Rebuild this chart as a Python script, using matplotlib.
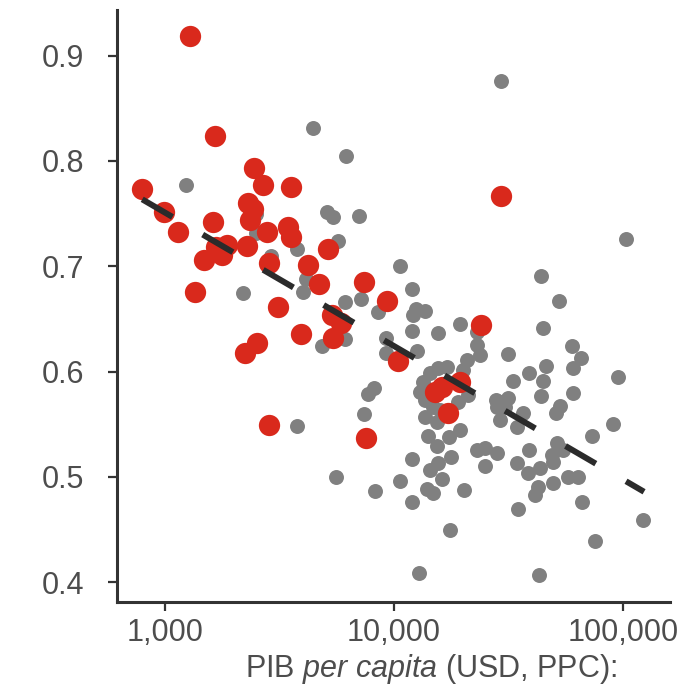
import matplotlib.pyplot as plt
import numpy as np

# GDP per capita (USD, PPP) and index value
red_gdp = [1286, 794, 990, 1140, 1352, 1480, 1653, 1621, 1866, 1774, 1670,
           2447, 2680, 3549, 2303, 2422, 2350, 2281, 2788, 3443, 3549, 2844,
           4210, 4701, 3113, 3926, 2522, 2235, 2844, 5150, 5358, 5871, 5415,
           7390, 9315, 10400, 7545, 23980, 16210, 19420, 17200, 29330, 15100]
red_val = [0.919, 0.773, 0.752, 0.733, 0.676, 0.706, 0.824, 0.742, 0.720, 0.711, 0.718,
           0.793, 0.777, 0.775, 0.760, 0.754, 0.744, 0.719, 0.733, 0.737, 0.728, 0.703,
           0.701, 0.683, 0.661, 0.636, 0.627, 0.618, 0.549, 0.716, 0.654, 0.646, 0.632,
           0.685, 0.667, 0.610, 0.537, 0.644, 0.585, 0.590, 0.561, 0.767, 0.581]

gray_gdp = [1236, 4426, 6173, 29330, 103000, 2495, 5098, 5415, 7032, 2495,
            5690, 2904, 3770, 4128, 4008, 2192, 6113, 7178, 8515, 10620,
            11990, 12480, 13660, 12110, 11990, 15560, 19420, 23030, 23030, 23760,
            20830, 20010, 31480, 4849, 6113, 9230, 9230, 12600, 43880, 52560,
            44760, 59880, 65570, 60480, 46130, 44760, 38870, 33100, 95130, 60480,
            43880, 53090, 50960, 29630, 28160, 31480, 29040, 34460, 36560, 90400,
            73240, 51480, 54720, 38870, 48990, 34460, 38460, 43430, 49460, 57540,
            63590, 49460, 42560, 41300, 66260, 34780, 122200, 75550, 42970, 12850,
            17570, 20210, 11990, 10620, 8260, 5580, 3770, 7698, 8180, 7390,
            11990, 14360, 15560, 17740, 16210, 13940, 14800, 23030, 24960, 28160,
            24960, 14070, 15400, 17380, 19420, 13660, 15400, 14800, 15880, 12990,
            13390, 13660, 14360, 15560, 17030, 19020, 21050, 27870, 30540]
gray_val = [0.777, 0.831, 0.805, 0.876, 0.726, 0.750, 0.752, 0.747, 0.748, 0.732,
            0.724, 0.710, 0.716, 0.688, 0.676, 0.675, 0.666, 0.669, 0.657, 0.700,
            0.678, 0.659, 0.658, 0.654, 0.639, 0.637, 0.645, 0.638, 0.625, 0.616,
            0.611, 0.602, 0.617, 0.624, 0.631, 0.632, 0.618, 0.620, 0.691, 0.667,
            0.641, 0.624, 0.613, 0.603, 0.605, 0.591, 0.599, 0.591, 0.595, 0.580,
            0.577, 0.567, 0.561, 0.571, 0.566, 0.575, 0.554, 0.547, 0.561, 0.550,
            0.539, 0.532, 0.526, 0.526, 0.521, 0.513, 0.504, 0.508, 0.514, 0.500,
            0.500, 0.494, 0.490, 0.483, 0.476, 0.470, 0.459, 0.439, 0.407, 0.409,
            0.450, 0.488, 0.476, 0.496, 0.487, 0.500, 0.548, 0.579, 0.584, 0.560,
            0.517, 0.507, 0.513, 0.519, 0.498, 0.489, 0.485, 0.526, 0.527, 0.523,
            0.510, 0.539, 0.529, 0.538, 0.545, 0.557, 0.552, 0.566, 0.564, 0.581,
            0.590, 0.573, 0.599, 0.603, 0.604, 0.571, 0.578, 0.573, 0.566]

# fitted trend (log-linear), ends
trend_gdp = [794, 123500]
trend_val = [0.7636, 0.4859]

xticks = [1000, 10000, 100000]
xtick_labels = ['1,000', '10,000', '100,000']
yticks = [0.4, 0.5, 0.6, 0.7, 0.8, 0.9]

#plot
plt.rcParams['font.family'] = 'Liberation Sans'
plt.rcParams['mathtext.fontset'] = 'custom'
plt.rcParams['mathtext.it'] = 'Liberation Sans:italic'
plt.rcParams['mathtext.rm'] = 'Liberation Sans'

fig = plt.figure(figsize=(6.91, 6.98), dpi=100)
ax = fig.add_axes([0.1693, 0.1375, 0.8003, 0.8482])

ax.scatter(gray_gdp, gray_val, s=116, color='#808080', linewidths=0, zorder=2)
ax.scatter(red_gdp, red_val, s=235, color='#d9291c', linewidths=0, zorder=3)
ax.plot(trend_gdp, trend_val, color='#2b2b2b', linewidth=4.3,
        linestyle=(0, (5.86, 5.86)), solid_capstyle='butt', zorder=4)

ax.set_xscale('log')
ax.set_xlim(616, 160300)
ax.set_ylim(0.3812, 0.9434)
ax.set_xticks(xticks)
ax.set_xticklabels(xtick_labels)
ax.minorticks_off()
ax.set_yticks(yticks)
ax.set_yticklabels(['%.1f' % v for v in yticks])

for side in ['top', 'right']:
    ax.spines[side].set_visible(False)
for side in ['left', 'bottom']:
    ax.spines[side].set_linewidth(2.2)
    ax.spines[side].set_color('#333333')
ax.tick_params(axis='both', direction='out', length=6.5, width=1.6,
               color='#333333', labelsize=22, labelcolor='#4d4d4d')
ax.tick_params(axis='y', pad=17)
ax.tick_params(axis='x', pad=5)

ax.set_xlabel(r'PIB $\it{per\ capita}$ (USD, PPC):', fontsize=22, color='#4d4d4d')
ax.xaxis.set_label_coords(0.568, -0.085)
ax.xaxis.label.set_va('top')

fig.savefig('out.png', dpi=100)
